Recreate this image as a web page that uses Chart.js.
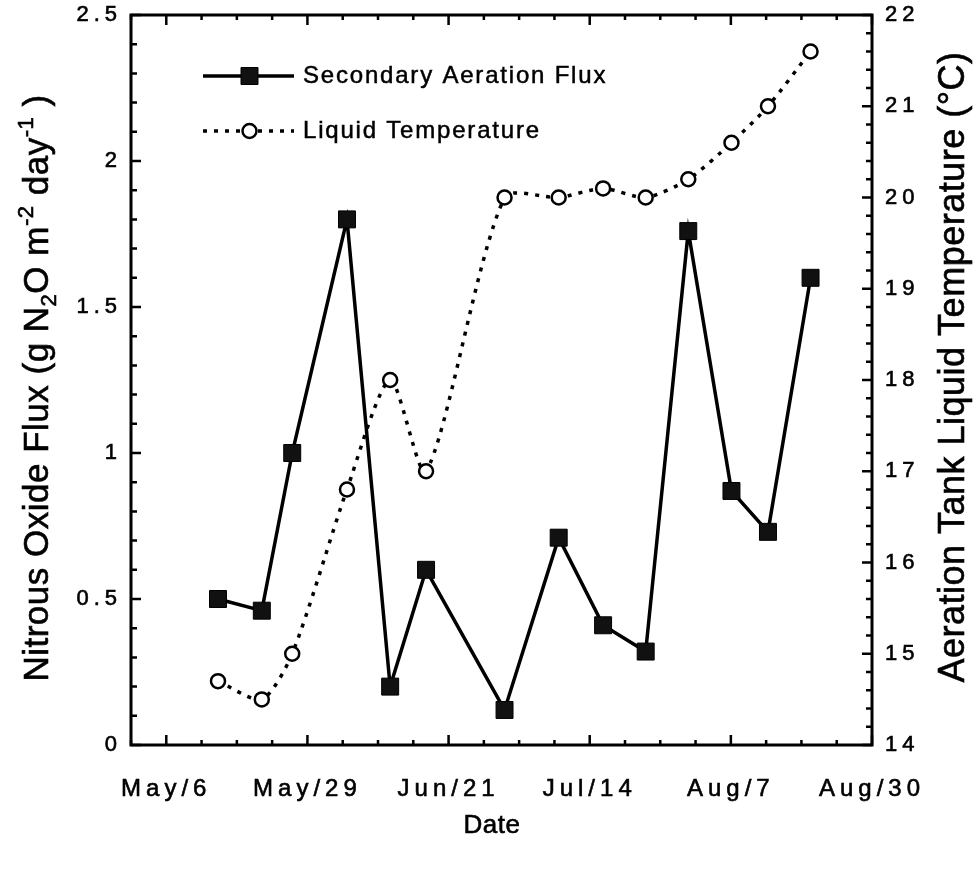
<!DOCTYPE html>
<html>
<head>
<meta charset="utf-8">
<script src="https://cdn.jsdelivr.net/npm/chart.js@4.4.0/dist/chart.umd.min.js"></script>
<style>
    html, body { margin: 0; padding: 0; background: #fff; }
    #wrap { width: 976px; height: 871px; position: relative; }
</style>
</head>
<body>
<div id="wrap"><canvas id="fluxChart"></canvas></div>
<script>
// sampling dates as day of year (May 6 = 126)
const sampleDays = [134.5, 141.7, 146.7, 155.7, 162.8, 168.7, 181.6, 190.5, 197.8, 204.8, 211.8, 218.9, 224.9, 231.9];
// secondary aeration N2O flux (g N2O m-2 day-1)
const fluxValues = [0.50, 0.46, 1.00, 1.80, 0.20, 0.60, 0.12, 0.71, 0.41, 0.32, 1.76, 0.87, 0.73, 1.60];
// aeration tank liquid temperature (°C)
const tempValues = [14.7, 14.5, 15.0, 16.8, 18.0, 17.0, 20.0, 20.0, 20.1, 20.0, 20.2, 20.6, 21.0, 21.6];
// date axis ticks (day of year) and their labels
const dateTicks = [126, 149.2, 172.4, 195.6, 218.8, 242];
const dateLabels = ['May/6', 'May/29', 'Jun/21', 'Jul/14', 'Aug/7', 'Aug/30'];
const seriesNames = ['Secondary Aeration Flux', 'Liquid Temperature'];

const FONT = '"Liberation Sans", Arial, Helvetica, sans-serif';

// tick labels in the original are widely spaced
const spacingPlugin = {
    id: 'spacing',
    beforeDraw(chart) {
        chart.ctx.letterSpacing = '5px';
    }
};

// frame + inward tick marks, positions taken from the scales
const framePlugin = {
    id: 'frame',
    beforeDatasetsDraw(chart) {
        const ctx = chart.ctx;
        const a = chart.chartArea;
        const sx = chart.scales.x, sy = chart.scales.y, sy1 = chart.scales.y1;
        ctx.save();
        ctx.strokeStyle = '#000';
        ctx.lineWidth = 2.5;
        ctx.beginPath();

        // date axis: 4 minor steps between labels, bottom and top
        const xStep = (dateTicks[1] - dateTicks[0]) / 4;
        for (let k = -4; k <= 24; k++) {
            const v = dateTicks[0] + k * xStep;
            if (v < sx.min - 0.01 || v > sx.max + 0.01) continue;
            const px = sx.getPixelForValue(v);
            const len = (k % 4 === 0) ? 10 : 5;
            ctx.moveTo(px, a.bottom); ctx.lineTo(px, a.bottom - len);
            ctx.moveTo(px, a.top); ctx.lineTo(px, a.top + len);
        }
        // left axis: every 0.1, long every 0.5
        for (let k = 0; k <= 25; k++) {
            const py = sy.getPixelForValue(k / 10);
            const len = (k % 5 === 0) ? 10 : 6;
            ctx.moveTo(a.left, py); ctx.lineTo(a.left + len, py);
        }
        // right axis: every 0.2 degree, long every degree
        for (let k = 0; k <= 40; k++) {
            const py = sy1.getPixelForValue(14 + k / 5);
            const len = (k % 5 === 0) ? 10 : 6;
            ctx.moveTo(a.right, py); ctx.lineTo(a.right - len, py);
        }
        ctx.stroke();

        ctx.lineWidth = 3;
        ctx.strokeRect(a.left, a.top, a.right - a.left, a.bottom - a.top);
        ctx.restore();
    }
};

function drawRich(ctx, parts, cx, cy, size, angle) {
    ctx.save();
    ctx.translate(cx, cy);
    ctx.rotate(angle);
    ctx.fillStyle = '#000';
    ctx.strokeStyle = '#000';
    ctx.lineWidth = 0.6;
    ctx.textAlign = 'left';
    ctx.textBaseline = 'alphabetic';
    ctx.letterSpacing = '0.5px';
    let total = 0;
    parts.forEach(p => {
        p.size = (p.sub || p.sup) ? Math.round(size * 0.62) : size;
        ctx.font = p.size + 'px ' + FONT;
        p.w = ctx.measureText(p.text).width;
        total += p.w;
    });
    let x = -total / 2;
    const base = size * 0.36;
    parts.forEach(p => {
        ctx.font = p.size + 'px ' + FONT;
        let dy = base;
        if (p.sub) dy += size * 0.25;
        if (p.sup) dy -= size * 0.42;
        ctx.fillText(p.text, x, dy);
        ctx.strokeText(p.text, x, dy);
        x += p.w;
    });
    ctx.restore();
}

// axis titles and the in-plot legend
const labelsPlugin = {
    id: 'labels',
    afterDatasetsDraw(chart) {
        const ctx = chart.ctx;
        const a = chart.chartArea;

        drawRich(ctx, [
            { text: 'Nitrous Oxide Flux (g N' },
            { text: '2', sub: true },
            { text: 'O m' },
            { text: '-2', sup: true },
            { text: ' day' },
            { text: '-1', sup: true },
            { text: ' )' }
        ], 35, 388, 35, -Math.PI / 2);

        drawRich(ctx, [{ text: 'Aeration Tank Liquid Temperature (°C)' }], 951, 367, 36, -Math.PI / 2);
        drawRich(ctx, [{ text: 'Date' }], 492, 824, 26, 0);

        // legend: line sample with marker, then name
        ctx.save();
        const x0 = a.left + 72, x1 = a.left + 163, xm = a.left + 118.5;
        const rows = [a.top + 61, a.top + 116];
        chart.data.datasets.forEach((ds, i) => {
            const y = rows[i];
            ctx.strokeStyle = ds.borderColor;
            ctx.lineWidth = ds.borderWidth;
            ctx.setLineDash(ds.borderDash || []);
            ctx.beginPath();
            ctx.moveTo(x0, y); ctx.lineTo(x1, y);
            ctx.stroke();
            ctx.setLineDash([]);
            ctx.fillStyle = ds.pointBackgroundColor;
            ctx.strokeStyle = ds.pointBorderColor;
            ctx.lineWidth = ds.pointBorderWidth;
            ctx.beginPath();
            if (ds.pointStyle === 'rect') {
                const h = ds.pointRadius * Math.SQRT1_2;
                ctx.rect(xm - h, y - h, 2 * h, 2 * h);
            } else {
                ctx.arc(xm, y, ds.pointRadius, 0, Math.PI * 2);
            }
            ctx.fill();
            ctx.stroke();

            ctx.fillStyle = '#000';
            ctx.strokeStyle = '#000';
            ctx.lineWidth = 0.5;
            ctx.font = '24px ' + FONT;
            ctx.letterSpacing = '1.8px';
            ctx.textAlign = 'left';
            ctx.textBaseline = 'middle';
            ctx.fillText(ds.label, a.left + 172, y);
            ctx.strokeText(ds.label, a.left + 172, y);
        });
        ctx.restore();
    }
};

// no extra room for label overhang, the frame is placed by hand
function noOverhang(scale) {
    scale.paddingTop = 0;
    scale.paddingBottom = 0;
    scale.paddingLeft = 0;
    scale.paddingRight = 0;
}

const tickFont = { family: FONT, size: 22 };

const ctx = document.getElementById('fluxChart').getContext('2d');
const chart = new Chart(ctx, {
    type: 'line',
    data: {
        datasets: [
            {
                label: seriesNames[0],
                data: sampleDays.map((d, i) => ({ x: d, y: fluxValues[i] })),
                yAxisID: 'y',
                borderColor: '#000',
                borderWidth: 3.5,
                tension: 0,
                pointStyle: 'rect',
                pointRadius: 12,
                pointBackgroundColor: '#111',
                pointBorderColor: '#000',
                pointBorderWidth: 1,
                order: 1
            },
            {
                label: seriesNames[1],
                data: sampleDays.map((d, i) => ({ x: d, y: tempValues[i] })),
                yAxisID: 'y1',
                borderColor: '#000',
                borderWidth: 3.5,
                borderDash: [4, 7],
                tension: 0.25,
                pointStyle: 'circle',
                pointRadius: 7,
                pointBackgroundColor: '#fff',
                pointBorderColor: '#000',
                pointBorderWidth: 2.5,
                order: 2
            }
        ]
    },
    options: {
        responsive: true,
        maintainAspectRatio: false,
        animation: false,
        layout: { padding: { top: 15, left: 0, right: 0, bottom: 0 } },
        plugins: {
            legend: { display: false },
            tooltip: { enabled: false }
        },
        scales: {
            x: {
                type: 'linear',
                position: 'bottom',
                min: 120.2,
                max: 242,
                afterBuildTicks: function(scale) {
                    scale.ticks = dateTicks.map(v => ({ value: v }));
                },
                afterFit: function(scale) { scale.height = 126; noOverhang(scale); },
                grid: { display: false, drawTicks: false },
                border: { display: false },
                ticks: {
                    color: '#000',
                    font: { family: FONT, size: 24 },
                    textStrokeColor: '#000',
                    textStrokeWidth: 0.6,
                    padding: 30,
                    maxRotation: 0,
                    autoSkip: false,
                    callback: function(value, index) { return dateLabels[index]; }
                }
            },
            y: {
                position: 'left',
                min: 0,
                max: 2.5,
                afterFit: function(scale) { scale.width = 131; noOverhang(scale); },
                grid: { display: false, drawTicks: false },
                border: { display: false },
                ticks: {
                    stepSize: 0.5,
                    color: '#000',
                    font: tickFont,
                    textStrokeColor: '#000',
                    textStrokeWidth: 0.6,
                    padding: 9,
                    callback: function(value) { return String(Number(value.toFixed(1))); }
                }
            },
            y1: {
                position: 'right',
                min: 14,
                max: 22,
                afterFit: function(scale) { scale.width = 104; noOverhang(scale); },
                grid: { display: false, drawTicks: false },
                border: { display: false },
                ticks: {
                    stepSize: 1,
                    color: '#000',
                    font: tickFont,
                    textStrokeColor: '#000',
                    textStrokeWidth: 0.6,
                    padding: 13
                }
            }
        }
    },
    plugins: [spacingPlugin, framePlugin, labelsPlugin]
});
</script>
</body>
</html>
